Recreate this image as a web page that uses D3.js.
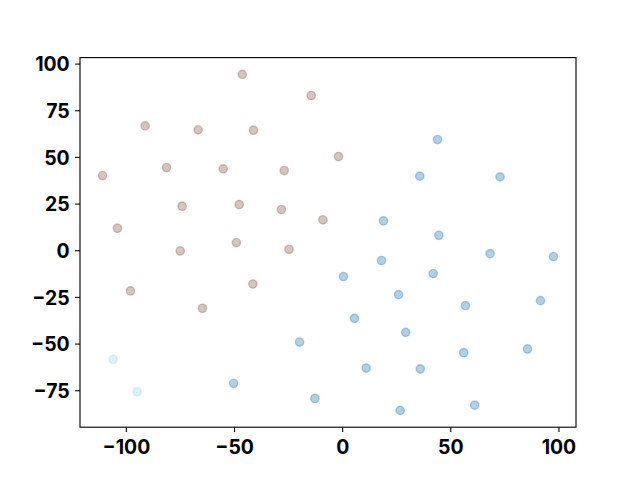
<!DOCTYPE html>
<html><head><meta charset="utf-8">
<script src="https://cdn.jsdelivr.net/npm/d3@7"></script>
<style>body{margin:0;background:#fff}svg{display:block}</style>
</head><body>
<svg id="c" width="640" height="480"></svg>
<script>
const brownX = [-46.2,-14.3,-91.1,-66.6,-41.0,-1.7,-110.8,-81.2,-55.0,-26.8,-74.0,-47.6,-28.1,-8.9,-103.9,-74.9,-48.9,-24.6,-97.9,-41.3,-64.6];
const brownY = [94.2,82.9,66.6,64.5,64.3,50.2,40.0,44.3,43.6,42.7,23.6,24.5,21.8,16.3,11.8,-0.4,4.1,0.5,-21.8,-18.1,-31.1];
const blueX = [0.6,5.7,-19.7,-50.2,-12.6,44.1,35.9,73.0,19.1,44.7,68.4,97.7,18.2,42.1,26.1,57.0,91.7,29.4,56.2,85.7,11.1,36.1,26.8,61.3];
const blueY = [-14.1,-36.5,-49.2,-71.3,-79.4,59.3,39.7,39.3,15.7,8.0,-1.8,-3.4,-5.5,-12.5,-23.8,-29.7,-27.0,-44.0,-54.9,-52.9,-63.1,-63.6,-85.8,-83.0];
const cyanX = [-105.9,-94.8];
const cyanY = [-58.4,-75.8];
const xTicks = [-100,-50,0,50,100];
const yTicks = [-75,-50,-25,0,25,50,75,100];
const series = [
  {x: brownX, y: brownY, color: "#8c564b"},
  {x: blueX, y: blueY, color: "#1f77b4"},
  {x: cyanX, y: cyanY, color: "#9edae5"}
];

const svg = d3.select("#c");
const L = 80, R = 576, T = 57.6, B = 427.2;
const allX = [].concat(brownX, blueX, cyanX), allY = [].concat(brownY, blueY, cyanY);
const [x0, x1] = d3.extent(allX), [y0, y1] = d3.extent(allY);
const mx = (x1 - x0) * 0.05, my = (y1 - y0) * 0.05;
const x = d3.scaleLinear().domain([x0 - mx, x1 + mx]).range([L, R]);
const y = d3.scaleLinear().domain([y0 - my, y1 + my]).range([B, T]);

const g = svg.append("g");
series.forEach(s => {
  g.selectAll(null).data(s.x.map((v, i) => [v, s.y[i]])).enter().append("circle")
    .attr("cx", d => x(d[0])).attr("cy", d => y(d[1])).attr("r", 4.17)
    .attr("fill", s.color).attr("fill-opacity", 0.35)
    .attr("stroke", s.color).attr("stroke-opacity", 0.35).attr("stroke-width", 1.39);
});

const fmt = d3.format("d");
const xa = svg.append("g").attr("transform", `translate(0,${B})`)
  .call(d3.axisBottom(x).tickValues(xTicks).tickFormat(fmt).tickSizeOuter(0).tickSize(4.86).tickPadding(4.86));
const ya = svg.append("g").attr("transform", `translate(${L},0)`)
  .call(d3.axisLeft(y).tickValues(yTicks).tickFormat(fmt).tickSizeOuter(0).tickSize(4.86).tickPadding(5.5));
[xa, ya].forEach(a => {
  a.select(".domain").remove();
  a.selectAll(".tick line").attr("stroke", "#000").attr("stroke-width", 1.11);
  a.selectAll(".tick text").attr("fill", "#000")
    .style("font-family", "Inter, Roboto, sans-serif")
    .style("font-weight", "bold").style("font-size", "19.4px");
});
xa.selectAll(".tick text").attr("y", 26.8).attr("dy", 0);
ya.selectAll(".tick text").attr("dy", "0.37em");
svg.append("rect").attr("x", L).attr("y", T).attr("width", R - L).attr("height", B - T)
  .attr("fill", "none").attr("stroke", "#000").attr("stroke-width", 1.11);
</script>
</body></html>
